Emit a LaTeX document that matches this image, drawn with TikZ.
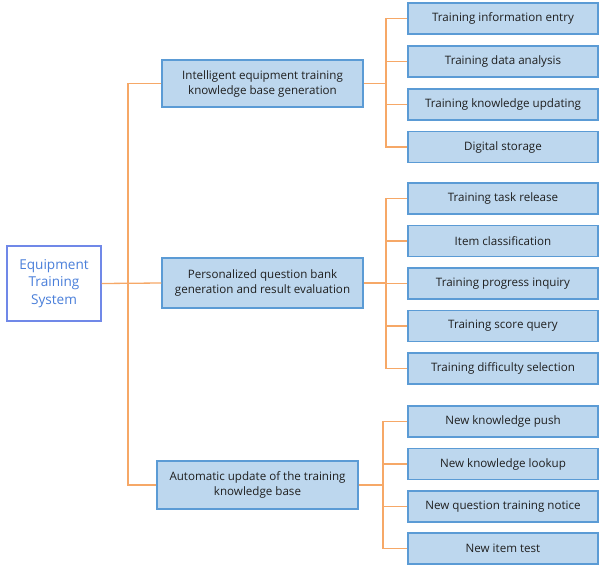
\documentclass[tikz,border=0pt]{standalone}
\usepackage{fontspec}
\setmainfont{Open Sans}
\definecolor{leaffill}{HTML}{BDD7EE}
\definecolor{leafdraw}{HTML}{5B9BD5}
\definecolor{linecol}{HTML}{F6A867}
\definecolor{rootdraw}{HTML}{7088E8}
\definecolor{roottext}{HTML}{4A7FDA}
\tikzset{
  leafbox/.style={draw=leafdraw, fill=leaffill, line width=1.3pt, minimum width=190pt, minimum height=31pt, inner sep=0pt, font=\fontsize{11.6}{13}\selectfont, text=black!88},
  midbox/.style={draw=leafdraw, fill=leaffill, line width=1.3pt, minimum width=201pt, minimum height=47pt, inner sep=0pt, align=center, font=\fontsize{11.6}{15}\selectfont, text=black!88},
  rootbox/.style={draw=rootdraw, fill=white, line width=1.3pt, minimum width=94pt, minimum height=75pt, inner sep=0pt, align=center, font=\fontsize{13.6}{17.3}\selectfont, text=roottext},
  conn/.style={draw=linecol, line width=1.3pt}
}
\begin{document}
\begin{tikzpicture}[x=1pt,y=-1pt]
\useasboundingbox (0,0) rectangle (600,565);
\node[rootbox] (root) at (54,283.5) {Equipment\\Training\\System};
\node[midbox] (m1) at (262.5,83.5) {Intelligent equipment training\\knowledge base generation};
\node[midbox, minimum height=50pt] (m2) at (262.5,283) {Personalized question bank\\generation and result evaluation};
\node[midbox, minimum height=48pt] (m3) at (257.5,485) {Automatic update of the training\\knowledge base};
\node[leafbox] (a1) at (503,18.5) {Training information entry};
\node[leafbox] (a2) at (503,61.5) {Training data analysis};
\node[leafbox] (a3) at (503,104.5) {Training knowledge updating};
\node[leafbox] (a4) at (503,147) {Digital storage};
\node[leafbox] (b1) at (503,198.5) {Training task release};
\node[leafbox] (b2) at (503,241) {Item classification};
\node[leafbox] (b3) at (503,283.5) {Training progress inquiry};
\node[leafbox] (b4) at (503,326) {Training score query};
\node[leafbox] (b5) at (503,368.5) {Training difficulty selection};
\node[leafbox] (c1) at (503,421.5) {New knowledge push};
\node[leafbox] (c2) at (503,464) {New knowledge lookup};
\node[leafbox] (c3) at (503,506.5) {New question training notice};
\node[leafbox] (c4) at (503,548.5) {New item test};
\coordinate (t) at (128,283.5);
\coordinate (ja) at (386,83.5);
\coordinate (jb) at (386,283);
\coordinate (jc) at (383,485);
\draw[conn] (root.east) -- (m2.west);
\draw[conn] (m1.west) -| (t) |- (m3.west);
\draw[conn] (m1.east) -- (ja);
\draw[conn] (m2.east) -- (jb);
\draw[conn] (m3.east) -- (jc);
\foreach \n in {a1,a2,a3,a4} \draw[conn] (ja) |- (\n.west);
\foreach \n in {b1,b2,b3,b4,b5} \draw[conn] (jb) |- (\n.west);
\foreach \n in {c1,c2,c3,c4} \draw[conn] (jc) |- (\n.west);
\end{tikzpicture}
\end{document}
